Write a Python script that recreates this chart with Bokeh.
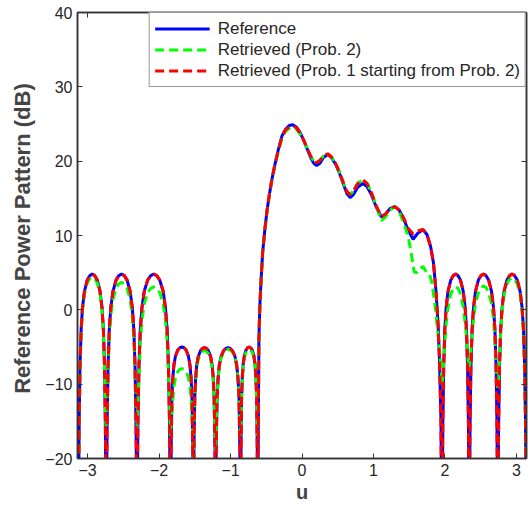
from bokeh.plotting import figure
from bokeh.models import LinearAxis, Range1d, Legend, LegendItem, FixedTicker
from bokeh.embed import file_html
from bokeh.resources import INLINE

# ---------------- data (u, dB) ----------------
# side-lobe sample positions (u)
uL1 = [-3.13, -3.126, -3.118, -3.107, -3.091, -3.072, -3.044, -3.005, -2.970, -2.935, -2.900, -2.865, -2.826, -2.799, -2.779, -2.763, -2.752, -2.744]
uL2 = [-2.74, -2.736, -2.727, -2.714, -2.697, -2.676, -2.645, -2.602, -2.564, -2.525, -2.486, -2.448, -2.405, -2.375, -2.353, -2.336, -2.323, -2.314]
uL3 = [-2.31, -2.305, -2.296, -2.282, -2.263, -2.240, -2.207, -2.160, -2.117, -2.075, -2.033, -1.990, -1.943, -1.911, -1.887, -1.868, -1.854, -1.845]
uL4 = [-1.84, -1.837, -1.830, -1.821, -1.808, -1.792, -1.770, -1.738, -1.709, -1.68, -1.651, -1.622, -1.590, -1.568, -1.552, -1.539, -1.530, -1.523]
uL5 = [-1.52, -1.517, -1.511, -1.501, -1.489, -1.474, -1.452, -1.421, -1.393, -1.365, -1.337, -1.309, -1.278, -1.257, -1.241, -1.229, -1.219, -1.213]
uL6 = [-1.21, -1.207, -1.200, -1.189, -1.175, -1.158, -1.133, -1.098, -1.067, -1.035, -1.004, -0.972, -0.937, -0.913, -0.895, -0.881, -0.871, -0.864]
uL7 = [-0.86, -0.858, -0.853, -0.846, -0.836, -0.824, -0.807, -0.783, -0.762, -0.74, -0.718, -0.697, -0.673, -0.656, -0.644, -0.634, -0.627, -0.622]
uR1 = [1.96, 1.964, 1.971, 1.983, 1.998, 2.017, 2.044, 2.082, 2.116, 2.15, 2.184, 2.218, 2.256, 2.283, 2.302, 2.317, 2.329, 2.336]
uR2 = [2.34, 2.344, 2.352, 2.364, 2.38, 2.40, 2.428, 2.468, 2.504, 2.54, 2.576, 2.612, 2.652, 2.68, 2.70, 2.716, 2.728, 2.736]
uR3 = [2.74, 2.744, 2.752, 2.764, 2.78, 2.80, 2.828, 2.868, 2.904, 2.94, 2.976, 3.012, 3.052, 3.08, 3.10, 3.116, 3.128, 3.136, 3.1416]

# main-beam sample positions (u)
uM = [-0.62, -0.613, -0.603, -0.59, -0.57, -0.55, -0.52, -0.49, -0.46, -0.42, -0.38, -0.33, -0.28, -0.23,
      -0.18, -0.13, -0.08, -0.03, 0.02, 0.07, 0.12, 0.165, 0.206, 0.25, 0.30, 0.36, 0.41, 0.47, 0.52,
      0.58, 0.63, 0.674, 0.72, 0.78, 0.85, 0.91, 0.97, 1.04, 1.11, 1.17, 1.23, 1.30, 1.36, 1.42, 1.49,
      1.555, 1.62, 1.695, 1.75, 1.80, 1.84, 1.875, 1.905, 1.925, 1.945]
uMG = [-0.62, -0.613, -0.603, -0.59, -0.57, -0.55, -0.52, -0.49, -0.46, -0.42, -0.38, -0.33, -0.28, -0.23,
       -0.18, -0.13, -0.08, -0.03, 0.02, 0.07, 0.12, 0.165, 0.206, 0.25, 0.30, 0.36, 0.41, 0.47, 0.52,
       0.58, 0.63, 0.674, 0.72, 0.78, 0.85, 0.91, 0.97, 1.04, 1.11, 1.17, 1.23, 1.30, 1.36, 1.42, 1.485,
       1.53, 1.57, 1.61, 1.65, 1.695, 1.74, 1.785, 1.82, 1.85, 1.88, 1.91, 1.94, 1.95]

# Reference (blue) dB
refL1 = [-40, -25.2, -15.2, -7.7, -2.7, 0.3, 2.5, 4.0, 4.6, 4.8, 4.6, 4.0, 2.5, 0.3, -2.7, -7.7, -15.2, -25.2]
refL2 = [-40, -25.2, -15.2, -7.7, -2.7, 0.3, 2.5, 4.0, 4.6, 4.8, 4.6, 4.0, 2.5, 0.3, -2.7, -7.7, -15.2, -25.2]
refL3 = [-40, -25.2, -15.2, -7.7, -2.7, 0.3, 2.5, 4.0, 4.6, 4.8, 4.6, 4.0, 2.5, 0.3, -2.7, -7.7, -15.2, -25.2]
refL4 = [-40, -25, -18, -12, -9.2, -7.4, -6.2, -5.4, -5.1, -5.0, -5.1, -5.4, -6.2, -7.4, -9.2, -12, -18, -25]
refL5 = [-40, -25, -18, -12, -9.3, -7.5, -6.3, -5.5, -5.2, -5.1, -5.2, -5.5, -6.3, -7.5, -9.3, -12, -18, -25]
refL6 = [-40, -25, -18, -12, -9.3, -7.5, -6.3, -5.5, -5.2, -5.1, -5.2, -5.5, -6.3, -7.5, -9.3, -12, -18, -25]
refL7 = [-40, -25, -18, -12, -9.2, -7.4, -6.2, -5.4, -5.1, -5.0, -5.1, -5.4, -6.2, -7.4, -9.2, -12, -18, -25]
refM = [-40, -18, -4, 0.5, 4.5, 7.8, 10.8, 13.3, 15.3, 17.6, 19.5, 21.6, 23.4, 24.3, 24.8, 24.9, 24.6, 23.9,
        22.9, 21.7, 20.5, 19.7, 19.4, 19.7, 20.5, 20.9, 20.5, 19.6, 18.5, 16.9, 15.6, 15.1, 15.5, 16.5,
        17.0, 16.6, 15.5, 13.8, 12.5, 12.9, 13.6, 13.9, 13.4, 12.3, 10.6, 9.5, 10.3, 10.8, 10.1, 8.5, 6.3,
        2.5, -2.1, -7, -15]
refR1 = [-40, -25.2, -15.2, -7.7, -2.7, 0.3, 2.5, 4.0, 4.6, 4.8, 4.6, 4.0, 2.5, 0.3, -2.7, -7.7, -15.2, -25.2]
refR2 = [-40, -25.2, -15.2, -7.7, -2.7, 0.3, 2.5, 4.0, 4.6, 4.8, 4.6, 4.0, 2.5, 0.3, -2.7, -7.7, -15.2, -25.2]
refR3 = [-40, -25.2, -15.2, -7.7, -2.7, 0.3, 2.5, 4.0, 4.6, 4.8, 4.6, 4.0, 2.5, 0.3, -2.7, -7.7, -15.2, -25.2, -40]

# Retrieved (Prob. 2) (green) dB
p2L1 = [-40, -25.6, -15.6, -8.1, -3.1, -0.1, 2.1, 3.6, 4.2, 4.4, 4.2, 3.6, 2.1, -0.1, -3.1, -8.1, -13, -15.5]
p2L2 = [-16, -15, -12.5, -8.8, -3.8, -0.8, 1.4, 2.9, 3.5, 3.7, 3.5, 2.9, 1.4, -0.8, -3.8, -8.8, -12.5, -15]
p2L3 = [-16, -15, -12.5, -9.4, -4.4, -1.4, 0.8, 2.3, 2.9, 3.1, 2.9, 2.3, 0.8, -1.4, -4.4, -9, -12.5, -15.5]
p2L4 = [-17, -16.5, -15.5, -13.9, -12.1, -10.3, -9.1, -8.3, -8.0, -7.9, -8.0, -8.3, -9.1, -10.3, -12.1, -14.9, -18, -21]
p2L5 = [-23, -22, -18.5, -12.5, -9.7, -7.9, -6.7, -5.9, -5.6, -5.5, -5.6, -5.9, -6.7, -7.9, -9.7, -12.5, -16.5, -18.5]
p2L6 = [-19, -18.5, -16.5, -12.3, -9.5, -7.7, -6.5, -5.7, -5.4, -5.3, -5.4, -5.7, -6.5, -7.7, -9.5, -12.3, -15.5, -16.8]
p2L7 = [-17, -16.8, -15.5, -12.3, -9.5, -7.7, -6.5, -5.7, -5.4, -5.3, -5.4, -5.7, -6.5, -7.7, -9.5, -12.3, -15.5, -16.8]
p2M = [-17, -12, -4, 0.5, 4.5, 7.8, 10.8, 13.3, 15.3, 17.6, 19.5, 21.4, 23.1, 24.0, 24.4, 24.5, 24.3, 23.7,
       22.8, 21.8, 20.7, 20.0, 19.8, 20.1, 20.7, 21.0, 20.6, 19.7, 18.6, 17.1, 15.9, 15.5, 16.0, 17.0,
       17.5, 17.0, 15.8, 13.9, 12.0, 12.5, 13.4, 13.9, 13.2, 11.8, 9.9, 7.5, 5.1, 5.0, 5.6, 5.8, 5.1, 4.8,
       3.5, 1.5, -1, -4, -7, -8.5]
p2R1 = [-10, -9.8, -9, -7, -4.5, -2.0, 0.4, 2.1, 2.9, 3.1, 2.9, 2.1, 0.4, -1.8, -3.8, -5.8, -7.2, -7.8]
p2R2 = [-8, -7.8, -7, -5.5, -3.3, -1.3, 0.8, 2.3, 3.0, 3.2, 3.0, 2.3, 0.8, -1.3, -4.3, -7, -9.3, -10.3]
p2R3 = [-10.5, -10.3, -9.5, -6.5, -3.2, -0.2, 2.0, 3.5, 4.1, 4.3, 4.1, 3.5, 2.0, -0.2, -3.2, -8.2, -15.7, -25.7, -40]

# Retrieved (Prob. 1 starting from Prob. 2) (red) dB: side lobes coincide with the reference
p12M = [-40, -18, -4, 0.5, 4.5, 7.8, 10.8, 13.3, 15.3, 17.6, 19.5, 21.5, 23.3, 24.2, 24.6, 24.7, 24.5, 23.8,
        22.9, 21.8, 20.7, 20.0, 19.8, 20.1, 20.7, 21.0, 20.6, 19.7, 18.6, 17.1, 15.9, 15.5, 16.0, 17.0,
        17.5, 17.0, 15.8, 14.0, 12.5, 12.9, 13.6, 13.9, 13.4, 12.4, 10.9, 10.2, 10.6, 10.8, 10.1, 8.5, 6.3,
        2.5, -2.1, -7, -15]

x_ticks = [-3, -2, -1, 0, 1, 2, 3]
y_ticks = [-20, -10, 0, 10, 20, 30, 40]
labels = ["Reference", "Retrieved (Prob. 2)", "Retrieved (Prob. 1 starting from Prob. 2)"]

# assemble series
lobes_left_u = uL1 + uL2 + uL3 + uL4 + uL5 + uL6 + uL7
lobes_right_u = uR1 + uR2 + uR3
ref_u = lobes_left_u + uM + lobes_right_u
ref_db = refL1 + refL2 + refL3 + refL4 + refL5 + refL6 + refL7 + refM + refR1 + refR2 + refR3
p2_u = lobes_left_u + uMG + lobes_right_u
p2_db = p2L1 + p2L2 + p2L3 + p2L4 + p2L5 + p2L6 + p2L7 + p2M + p2R1 + p2R2 + p2R3
p12_u = ref_u
p12_db = refL1 + refL2 + refL3 + refL4 + refL5 + refL6 + refL7 + p12M + refR1 + refR2 + refR3

FONT = "Liberation Sans"
AX = "#333333"

p = figure(width=529, height=505, output_backend="svg", toolbar_location=None,
           x_range=Range1d(-3.1416, 3.1416), y_range=Range1d(-20, 40),
           min_border_left=77, min_border_top=12, min_border_right=3, min_border_bottom=45)
p.xgrid.visible = False
p.ygrid.visible = False
p.outline_line_color = AX
p.outline_line_width = 1.5
p.background_fill_color = "white"
p.border_fill_color = "white"

r1 = p.line(ref_u, ref_db, line_color="#0000ff", line_width=3)
r2 = p.line(p2_u, p2_db, line_color="#00ff00", line_width=3, line_dash="9 5")
r3 = p.line(p12_u, p12_db, line_color="#ff0000", line_width=3, line_dash="9 5")

def style(ax, show_labels=True):
    ax.axis_line_color = AX
    ax.axis_line_width = 1.5
    ax.major_tick_in = 5
    ax.major_tick_out = 0
    ax.minor_tick_in = 0
    ax.minor_tick_out = 0
    ax.major_tick_line_color = AX
    ax.major_label_text_font = FONT
    ax.major_label_text_color = "#262626"
    if show_labels:
        ax.major_label_text_font_size = "16px"
        ax.major_label_standoff = 5
    else:
        ax.major_label_text_font_size = "1px"
        ax.major_label_text_alpha = 0
        ax.major_label_standoff = 0

xa = p.xaxis[0]
xa.ticker = FixedTicker(ticks=x_ticks)
style(xa)
xa.axis_label = "u"
xa.axis_label_text_font = FONT
xa.axis_label_text_font_style = "bold"
xa.axis_label_text_font_size = "20px"
xa.axis_label_standoff = 2

ya = p.yaxis[0]
ya.ticker = FixedTicker(ticks=y_ticks)
style(ya)
ya.axis_label = "Reference Power Pattern  (dB)"
ya.axis_label_text_font = FONT
ya.axis_label_text_font_style = "bold"
ya.axis_label_text_font_size = "22px"
ya.axis_label_standoff = 7

top = LinearAxis(ticker=FixedTicker(ticks=x_ticks))
style(top, False)
p.add_layout(top, "above")
right = LinearAxis(ticker=FixedTicker(ticks=y_ticks))
style(right, False)
p.add_layout(right, "right")

legend = Legend(items=[LegendItem(label=labels[0], renderers=[r1]),
                       LegendItem(label=labels[1], renderers=[r2]),
                       LegendItem(label=labels[2], renderers=[r3])],
                location="top_right", margin=0, padding=5, spacing=0,
                glyph_width=55, glyph_height=21, label_height=21,
                label_standoff=8, label_text_font=FONT, label_text_font_size="17px",
                label_text_color="#262626", border_line_color=AX, border_line_width=1.2,
                background_fill_alpha=1.0)
p.add_layout(legend, "center")

open("out.html", "w").write(file_html(p, INLINE))
